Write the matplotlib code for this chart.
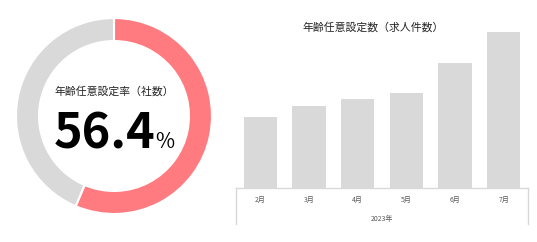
import matplotlib
matplotlib.use("Agg")
import matplotlib.pyplot as plt
from matplotlib.transforms import blended_transform_factory

plt.rcParams['font.family'] = ['Noto Sans CJK JP', 'DejaVu Sans']

# données
rate = 56.4
donut_label = "年齢任意設定率（社数）"
bar_title = "年齢任意設定数（求人件数）"
months = ["2月", "3月", "4月", "5月", "6月", "7月"]
counts = [71, 82, 89, 95, 125, 156]
year_label = "2023年"

red = "#FF7B7F"
grey = "#D9D9D9"
W, H = 537, 242

fig = plt.figure(figsize=(W / 100, H / 100), dpi=100)

# anneau
ax1 = fig.add_axes([16 / W, 28 / H, 196 / W, 196 / H])
ax1.pie([rate, 100 - rate], colors=[red, grey], startangle=90, counterclock=False,
        wedgeprops=dict(width=0.235, edgecolor="white", linewidth=1.5))
ax1.set_xlim(-1, 1)
ax1.set_ylim(-1, 1)
ax1.text(0, 0.255, donut_label, ha="center", va="center", fontsize=7.8, color="#222222")
ax1.text(0.42, -0.327, f"{rate}", ha="right", va="baseline", fontsize=35,
         fontweight="bold", color="black")
ax1.text(0.42, -0.327, "%", ha="left", va="baseline", fontsize=15, color="black")

# barres
ax2 = fig.add_axes([236 / W, 54 / H, 292 / W, 160 / H])
x = range(len(months))
ax2.bar(x, counts, width=0.68, color=grey)
ax2.set_xlim(-0.5, len(months) - 0.5)
ax2.set_ylim(0, 160)
for s in ax2.spines.values():
    s.set_visible(False)
ax2.set_yticks([])
ax2.set_xticks(list(x))
ax2.set_xticklabels(months, fontsize=5, color="#595959")
ax2.tick_params(axis="x", length=0, pad=6)

lc = "#D9D9D9"
ax2.plot([0, 1], [0, 0], color=lc, lw=1, transform=ax2.transAxes, clip_on=False)
ax2.plot([0, 0], [0, -36 / 160], color=lc, lw=1, transform=ax2.transAxes, clip_on=False)
ax2.plot([1, 1], [0, -36 / 160], color=lc, lw=1, transform=ax2.transAxes, clip_on=False)
ax2.text(0.5, -31 / 160, year_label, ha="center", va="center", fontsize=5,
         color="#595959", transform=ax2.transAxes)

fig.text(373 / W, 1 - 27 / H, bar_title, ha="center", va="center", fontsize=7.8,
         color="#222222")

fig.savefig("out.png", dpi=100)
